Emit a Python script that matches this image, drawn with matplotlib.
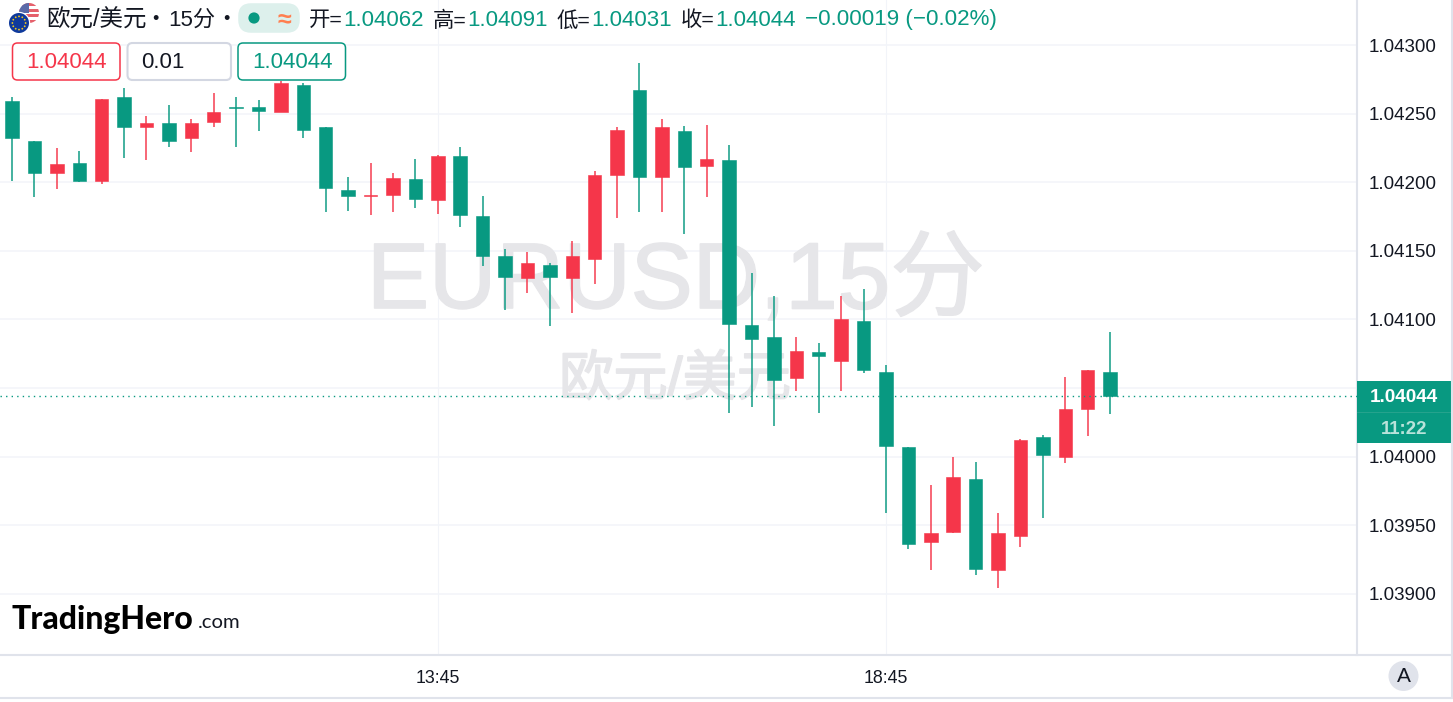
from __future__ import annotations

import math

from matplotlib import patheffects, pyplot as plt
from matplotlib.patches import Circle, FancyBboxPatch, Rectangle
from matplotlib.transforms import Affine2D

GREEN = "#089981"
RED = "#F5364A"
GRID = "#F2F4F9"
BORDER = "#E0E3EB"
TEXT = "#131722"
WATERMARK = "#E6E6E9"
WIDTH, HEIGHT = 1453, 702
AXIS_X, AXIS_Y = 1357, 655
BAR_STEP, BAR_X0 = 22.41, 12.0
PX_PER_PRICE = 137200.0

OPENS = [
    1.04259, 1.04230, 1.04207, 1.04214, 1.04201, 1.04262, 1.04240, 1.04243, 1.04232, 1.04244,
    1.04255, 1.04255, 1.04251, 1.04271, 1.04240, 1.04194, 1.04190, 1.04191, 1.04202, 1.04187,
    1.04219, 1.04175, 1.04146, 1.04130, 1.04140, 1.04130, 1.04144, 1.04205, 1.04267, 1.04204,
    1.04237, 1.04212, 1.04216, 1.04096, 1.04087, 1.04057, 1.04076, 1.04070, 1.04099, 1.04062,
    1.04007, 1.03938, 1.03945, 1.03984, 1.03917, 1.03942, 1.04014, 1.04000, 1.04035, 1.04062,
]
HIGHS = [
    1.04262, 1.04230, 1.04225, 1.04223, 1.04261, 1.04269, 1.04248, 1.04256, 1.04246, 1.04265,
    1.04262, 1.04260, 1.04274, 1.04272, 1.04240, 1.04204, 1.04214, 1.04207, 1.04217, 1.04220,
    1.04226, 1.04190, 1.04151, 1.04149, 1.04141, 1.04157, 1.04208, 1.04240, 1.04287, 1.04246,
    1.04241, 1.04242, 1.04227, 1.04134, 1.04117, 1.04087, 1.04083, 1.04117, 1.04122, 1.04067,
    1.04007, 1.03979, 1.04000, 1.03996, 1.03959, 1.04013, 1.04016, 1.04058, 1.04063, 1.04091,
]
LOWS = [
    1.04201, 1.04189, 1.04195, 1.04200, 1.04199, 1.04218, 1.04216, 1.04226, 1.04222, 1.04240,
    1.04226, 1.04237, 1.04251, 1.04232, 1.04178, 1.04179, 1.04176, 1.04178, 1.04181, 1.04177,
    1.04167, 1.04139, 1.04107, 1.04119, 1.04095, 1.04105, 1.04126, 1.04174, 1.04178, 1.04178,
    1.04162, 1.04189, 1.04032, 1.04036, 1.04022, 1.04048, 1.04032, 1.04048, 1.04061, 1.03959,
    1.03933, 1.03917, 1.03944, 1.03914, 1.03904, 1.03934, 1.03955, 1.03995, 1.04015, 1.04031,
]
CLOSES = [
    1.04232, 1.04207, 1.04213, 1.04201, 1.04261, 1.04240, 1.04243, 1.04230, 1.04243, 1.04251,
    1.04254, 1.04252, 1.04272, 1.04238, 1.04196, 1.04190, 1.04191, 1.04203, 1.04188, 1.04219,
    1.04176, 1.04146, 1.04131, 1.04141, 1.04131, 1.04146, 1.04205, 1.04238, 1.04204, 1.04240,
    1.04211, 1.04217, 1.04097, 1.04086, 1.04056, 1.04077, 1.04073, 1.04100, 1.04063, 1.04008,
    1.03936, 1.03944, 1.03985, 1.03918, 1.03944, 1.04012, 1.04001, 1.04035, 1.04063, 1.04044,
]
PRICE_TICKS = [1.04300, 1.04250, 1.04200, 1.04150, 1.04100, 1.04050, 1.04000, 1.03950, 1.03900]
PRICE_LABELS = ["1.04300", "1.04250", "1.04200", "1.04150", "1.04100", "", "1.04000", "1.03950", "1.03900"]
TIME_TICKS = [19, 39]
TIME_LABELS = ["13:45", "18:45"]
LAST_PRICE = 1.04044
LEGEND = [
    ("开=", 309, "1.04062", 343),
    ("高=", 433, "1.04091", 467),
    ("低=", 557, "1.04031", 591),
    ("收=", 681, "1.04044", 715),
]


def _px() -> Affine2D:
    # pixel coordinates of the reference, y pointing down
    return Affine2D().scale(1, -1).translate(0, HEIGHT)


def _setup_price_axes(fig: plt.Figure) -> plt.Axes:
    ax = fig.add_axes([0, 1 - AXIS_Y / HEIGHT, AXIS_X / WIDTH, AXIS_Y / HEIGHT])
    ax.set_xlim(-BAR_X0 / BAR_STEP, (AXIS_X - BAR_X0) / BAR_STEP)
    ax.set_ylim(1.04300 - (AXIS_Y - 45) / PX_PER_PRICE, 1.04300 + 45 / PX_PER_PRICE)
    ax.yaxis.tick_right()
    ax.set_yticks(PRICE_TICKS, PRICE_LABELS)
    ax.set_xticks(TIME_TICKS, TIME_LABELS)
    ax.tick_params(axis="y", length=0, pad=8.6, labelsize=13.5, labelcolor=TEXT)
    ax.tick_params(axis="x", length=0, pad=11, labelsize=12.8, labelcolor=TEXT)
    ax.grid(True, axis="y", color=GRID, linewidth=1.1)
    ax.grid(True, axis="x", color=GRID, linewidth=0.8)
    ax.set_axisbelow(True)
    for name, spine in ax.spines.items():
        spine.set_visible(name == "right")
        spine.set_color(BORDER)
        spine.set_linewidth(1.5)
    return ax


def _draw_watermark(ax: plt.Axes) -> None:
    bold = [patheffects.withStroke(linewidth=1.2, foreground=WATERMARK)]
    ax.text(367, 284, "EURUSD,", transform=_px(), ha="left", va="center", fontsize=67,
            color=WATERMARK, zorder=1, path_effects=bold)
    ax.text(985, 284, "15分", transform=_px(), ha="right", va="center", fontsize=68,
            color=WATERMARK, zorder=1, path_effects=bold)
    ax.text(675, 381, "欧元/美元", transform=_px(), ha="center", va="center", fontsize=39,
            color=WATERMARK, zorder=1, path_effects=bold)


def _draw_candles(ax: plt.Axes) -> None:
    for i, (o, h, l, c) in enumerate(zip(OPENS, HIGHS, LOWS, CLOSES)):
        color = RED if c > o else GREEN
        ax.vlines(i, l, h, color=color, linewidth=1.25, alpha=0.85, zorder=3)
        ax.bar(i, abs(c - o), bottom=min(o, c), width=0.6, color=color, edgecolor=color, linewidth=0.4, zorder=4)
    ax.axhline(LAST_PRICE, color=GREEN, linewidth=1.0, linestyle=(0, (1, 3)), zorder=5)


def _box(ov: plt.Axes, x0: float, y0: float, x1: float, y1: float, edge: str, face: str = "white", radius: float = 5.0, lw: float = 1.1) -> None:
    ov.add_patch(FancyBboxPatch((x0 + radius, y0 + radius), x1 - x0 - 2 * radius, y1 - y0 - 2 * radius,
                                boxstyle=f"round,pad={radius},rounding_size={radius}",
                                edgecolor=edge, facecolor=face, linewidth=lw))


def _draw_flags(ov: plt.Axes) -> None:
    us_clip = Circle((29, 13), 10, transform=ov.transData)
    for k in range(7):
        stripe = Rectangle((19, 3 + k * 20 / 7), 20, 20 / 7, facecolor="#E5606B" if k % 2 == 0 else "white", linewidth=0)
        ov.add_patch(stripe)
        stripe.set_clip_path(us_clip)
    canton = Rectangle((19, 3), 10, 10, facecolor="#5A6AA8", linewidth=0)
    ov.add_patch(canton)
    canton.set_clip_path(us_clip)
    ov.add_patch(Circle((19, 23), 11.2, facecolor="white", linewidth=0))
    ov.add_patch(Circle((19, 23), 10, facecolor="#0F3A9C", linewidth=0))
    for k in range(12):
        angle = k * math.pi / 6
        ov.add_patch(Circle((19 + 6.6 * math.cos(angle), 23 + 6.6 * math.sin(angle)), 0.9, facecolor="#F2C81E", linewidth=0))


def _draw_header(ov: plt.Axes) -> None:
    _draw_flags(ov)
    ov.text(46, 20.5, "欧元/美元", ha="left", va="center", fontsize=16.9, color=TEXT)
    ov.text(155, 20, "•", ha="center", va="center", fontsize=13, color=TEXT)
    ov.text(168, 20.5, "15分", ha="left", va="center", fontsize=16, color=TEXT)
    ov.text(226, 20, "•", ha="center", va="center", fontsize=13, color=TEXT)
    _box(ov, 239, 4, 299, 32, "#DDF0EC", "#DDF0EC", radius=12)
    ov.add_patch(Circle((254, 18), 5.6, facecolor=GREEN, linewidth=0))
    ov.text(284, 20, "≈", ha="center", va="center", fontsize=18, color="#FF7F50", fontweight="bold")
    for label, lx, value, vx in LEGEND:
        ov.text(lx, 20.5, label, ha="left", va="center", fontsize=15.4, color=TEXT)
        ov.text(vx, 20, value, ha="left", va="center", fontsize=16, color=GREEN)
    ov.text(805, 20, "−0.00019 (−0.02%)", ha="left", va="center", fontsize=16.1, color=GREEN)

    _box(ov, 12.5, 43, 120, 80, RED)
    ov.text(66, 62.5, "1.04044", ha="center", va="center", fontsize=16, color=RED)
    _box(ov, 127.5, 43, 231, 80, "#D3D7E2", lw=1.5)
    ov.text(141, 62, "0.01", ha="left", va="center", fontsize=16, color=TEXT)
    _box(ov, 238, 43, 345.5, 80, GREEN)
    ov.text(292, 62.5, "1.04044", ha="center", va="center", fontsize=16, color=GREEN)


def _draw_price_tag(ov: plt.Axes) -> None:
    ov.add_patch(Rectangle((1357, 380.5), 94, 62.5, facecolor=GREEN, linewidth=0))
    ov.plot([1357, 1451], [412, 412], color="#2BA590", linewidth=0.6)
    ov.text(1404, 397, "1.04044", ha="center", va="center", fontsize=13.6, color="white", fontweight="bold")
    ov.text(1404, 429, "11:22", ha="center", va="center", fontsize=13.4, color="#B9E3DA", fontweight="bold")


def _draw_footer(ov: plt.Axes) -> None:
    ov.plot([0, 1452], [655, 655], color=BORDER, linewidth=1.5)
    ov.plot([1452, 1452], [0, 698], color=BORDER, linewidth=1.5)
    ov.plot([0, WIDTH], [698, 698], color=BORDER, linewidth=1.5)
    ov.add_patch(Circle((1403.5, 676), 15, facecolor=BORDER, linewidth=0))
    ov.text(1403.5, 677, "A", ha="center", va="center", fontsize=15, color=TEXT)
    ov.text(12, 620, "TradingHero", ha="left", va="center", fontsize=23, color="black",
            family="Lato", fontweight="black")
    ov.text(198, 623, ".com", ha="left", va="center", fontsize=14.6, color=TEXT, family="Lato")


def main() -> None:
    plt.rcParams["font.family"] = ["Liberation Sans", "Noto Sans CJK SC", "DejaVu Sans"]
    fig = plt.figure(figsize=(WIDTH / 100, HEIGHT / 100), dpi=100)
    ax = _setup_price_axes(fig)
    _draw_watermark(ax)
    _draw_candles(ax)

    ov = fig.add_axes([0, 0, 1, 1], zorder=5)
    ov.set_xlim(0, WIDTH)
    ov.set_ylim(HEIGHT, 0)
    ov.axis("off")
    _draw_header(ov)
    _draw_price_tag(ov)
    _draw_footer(ov)
    fig.savefig("out.png", dpi=100)
    plt.close(fig)


if __name__ == "__main__":
    main()
